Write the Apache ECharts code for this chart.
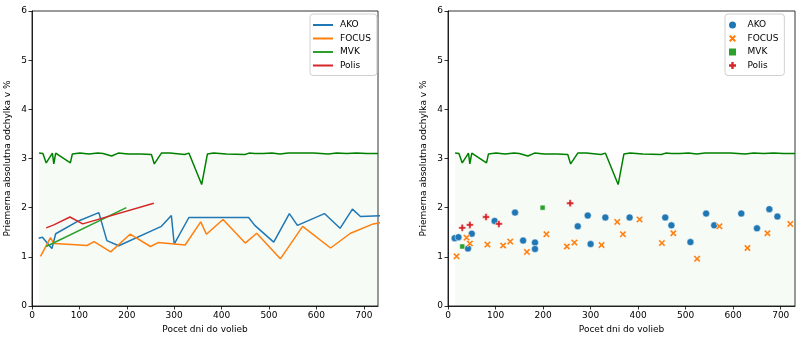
<!DOCTYPE html>
<html><head><meta charset="utf-8">
<script src="https://cdn.jsdelivr.net/npm/echarts@6/dist/echarts.min.js"></script>
<style>html,body{margin:0;padding:0;background:#fff}#c{width:800px;height:341px}</style>
</head><body><div id="c"></div>
<script>
// ---- data (days before election, mean absolute deviation in %) ----
const akoDays   = [14, 22, 42, 50, 98, 141, 158, 183, 183, 273, 294, 300, 331, 382, 457, 470, 510, 543, 560, 617, 650, 676, 693, 740];
const akoVals   = [1.38, 1.40, 1.17, 1.47, 1.73, 1.90, 1.33, 1.29, 1.16, 1.62, 1.84, 1.26, 1.80, 1.80, 1.80, 1.64, 1.30, 1.88, 1.64, 1.88, 1.58, 1.97, 1.82, 1.84];
const focusDays = [18, 39, 46, 83, 116, 131, 166, 207, 250, 266, 323, 356, 368, 403, 450, 474, 524, 571, 630, 672, 720, 745];
const focusVals = [1.01, 1.39, 1.27, 1.25, 1.23, 1.31, 1.10, 1.46, 1.21, 1.29, 1.24, 1.71, 1.46, 1.76, 1.28, 1.48, 0.96, 1.62, 1.18, 1.48, 1.67, 1.71];
const mvkDays   = [30, 199];
const mvkVals   = [1.21, 2.00];
const polisDays = [30, 46, 80, 107, 257];
const polisVals = [1.59, 1.65, 1.81, 1.67, 2.09];
// upper reference curve (green, filled below)
const refDays = [15, 23, 30, 43, 46, 50, 81, 85, 101, 120, 139, 150, 168, 182, 203, 230, 252, 258, 273, 291, 322, 331, 358, 370, 383, 410, 449, 458, 470, 488, 506, 523, 541, 566, 594, 625, 643, 664, 685, 706, 730];
const refVals = [3.11, 3.10, 2.91, 3.11, 2.89, 3.11, 2.91, 3.09, 3.11, 3.09, 3.11, 3.10, 3.05, 3.11, 3.09, 3.09, 3.08, 2.89, 3.11, 3.11, 3.08, 3.11, 2.47, 3.09, 3.11, 3.09, 3.08, 3.11, 3.10, 3.10, 3.11, 3.09, 3.11, 3.11, 3.11, 3.09, 3.11, 3.10, 3.11, 3.10, 3.10];
const names = ['AKO', 'FOCUS', 'MVK', 'Polis'];
const colors = ['#1f77b4', '#ff7f0e', '#2ca02c', '#d62728'];
const xTicks = [0, 100, 200, 300, 400, 500, 600, 700];
const yTicks = [0, 1, 2, 3, 4, 5, 6];
const xTitle = 'Pocet dni do volieb';
const yTitle = 'Priemerna absolutna odchylka v %';

const FONT = 'DejaVu Sans';
const zip = (a, b) => a.map((v, i) => [v, b[i]]);
// seaborn-like line: mean of duplicate x values, sorted
function meanLine(xs, ys) {
  const m = new Map();
  xs.forEach((x, i) => { if (!m.has(x)) m.set(x, []); m.get(x).push(ys[i]); });
  return [...m.keys()].sort((a, b) => a - b).map(k => [k, m.get(k).reduce((s, v) => s + v, 0) / m.get(k).length]);
}
const days = [akoDays, focusDays, mvkDays, polisDays];
const vals = [akoVals, focusVals, mvkVals, polisVals];

const X_SYM = 'path://M2,0L5,3L8,0L10,2L7,5L10,8L8,10L5,7L2,10L0,8L3,5L0,2Z';
const P_SYM = 'path://M3.3,0H6.7V3.3H10V6.7H6.7V10H3.3V6.7H0V3.3H3.3Z';
const SQ_SYM = 'path://M0,0H10V10H0Z';
const symbols = ['circle', X_SYM, SQ_SYM, P_SYM];
const symSizes = [7, 7, 5, 7];
const legendSyms = ['circle', X_SYM, SQ_SYM, P_SYM];

function xAxis(i) {
  return {
    type: 'value', gridIndex: i, min: 0, max: 730, interval: 100,
    name: xTitle, nameLocation: 'middle', nameGap: 17,
    nameTextStyle: { fontFamily: FONT, fontSize: 9, color: '#000' },
    axisLine: { show: true, lineStyle: { color: '#000', width: 0.8 } },
    axisTick: { show: true, length: 3.5, lineStyle: { color: '#000', width: 0.8 } },
    axisLabel: { fontFamily: FONT, fontSize: 9, color: '#000', margin: 5, showMaxLabel: false,
      formatter: v => xTicks.includes(v) ? String(v) : '' },
    splitLine: { show: false }
  };
}
function yAxis(i) {
  return {
    type: 'value', gridIndex: i, min: 0, max: 6, interval: 1,
    name: yTitle, nameLocation: 'middle', nameGap: 20,
    nameTextStyle: { fontFamily: FONT, fontSize: 9, color: '#000' },
    axisLine: { show: true, lineStyle: { color: '#000', width: 0.8 } },
    axisTick: { show: true, length: 3.5, lineStyle: { color: '#000', width: 0.8 } },
    axisLabel: { fontFamily: FONT, fontSize: 9, color: '#000', margin: 5,
      formatter: v => yTicks.includes(v) ? String(v) : '' },
    splitLine: { show: false }
  };
}
function refSeries(i) {
  return {
    type: 'line', name: 'ref', xAxisIndex: i, yAxisIndex: i, data: zip(refDays, refVals),
    showSymbol: false, symbol: 'none', z: 1,
    lineStyle: { color: '#008000', width: 1.5 }, itemStyle: { color: '#008000' },
    areaStyle: { color: 'rgba(0,128,0,0.05)', origin: 'start' }, silent: true
  };
}
const series = [refSeries(0), refSeries(1)];
names.forEach((n, k) => {
  series.push({
    type: 'line', name: n, xAxisIndex: 0, yAxisIndex: 0, data: meanLine(days[k], vals[k]),
    showSymbol: false, symbol: 'none', z: 3, clip: true,
    lineStyle: { color: colors[k], width: 1.5 }, itemStyle: { color: colors[k] }
  });
});
names.forEach((n, k) => {
  series.push({
    type: 'scatter', name: n, xAxisIndex: 1, yAxisIndex: 1, data: zip(days[k], vals[k]),
    symbol: symbols[k], symbolSize: symSizes[k], clip: true, z: 3,
    itemStyle: { color: colors[k], borderColor: '#fff', borderWidth: 0.5, opacity: 1 }
  });
});

const legendBase = {
  orient: 'vertical', top: 14, itemGap: 1.5,
  textStyle: { fontFamily: FONT, fontSize: 9, color: '#000', lineHeight: 12, padding: [0, 0, 0, 2] },
  borderColor: '#d0d0d0', borderWidth: 1, borderRadius: 3, backgroundColor: '#fff',
  selectedMode: false
};
const option = {
  animation: false,
  backgroundColor: '#fff',
  grid: [
    { left: 32, top: 11, width: 346, height: 295, show: true, borderColor: '#000', borderWidth: 0.8, backgroundColor: 'transparent', containLabel: false, outerBoundsMode: 'none' },
    { left: 448, top: 11, width: 347, height: 295, show: true, borderColor: '#000', borderWidth: 0.8, backgroundColor: 'transparent', containLabel: false, outerBoundsMode: 'none' }
  ],
  xAxis: [xAxis(0), xAxis(1)],
  yAxis: [yAxis(0), yAxis(1)],
  legend: [
    Object.assign({}, legendBase, {
      left: 310, padding: [5, 6, 4, 3], itemWidth: 20, itemHeight: 2,
      data: names.map((n, k) => ({ name: n, icon: 'rect', itemStyle: { color: colors[k], borderWidth: 0 }, lineStyle: { width: 0 } }))
    }),
    Object.assign({}, legendBase, {
      left: 725, padding: [5, 6, 4, 4], itemWidth: 16, itemHeight: 7, symbolKeepAspect: true,
      data: names.map((n, k) => ({ name: n, icon: legendSyms[k], itemStyle: { color: colors[k], borderWidth: 0 }, lineStyle: { width: 0 } }))
    })
  ],
  series: series
};
const chart = echarts.init(document.getElementById('c'), null, { renderer: 'canvas' });
chart.setOption(option);
</script>
</body></html>
